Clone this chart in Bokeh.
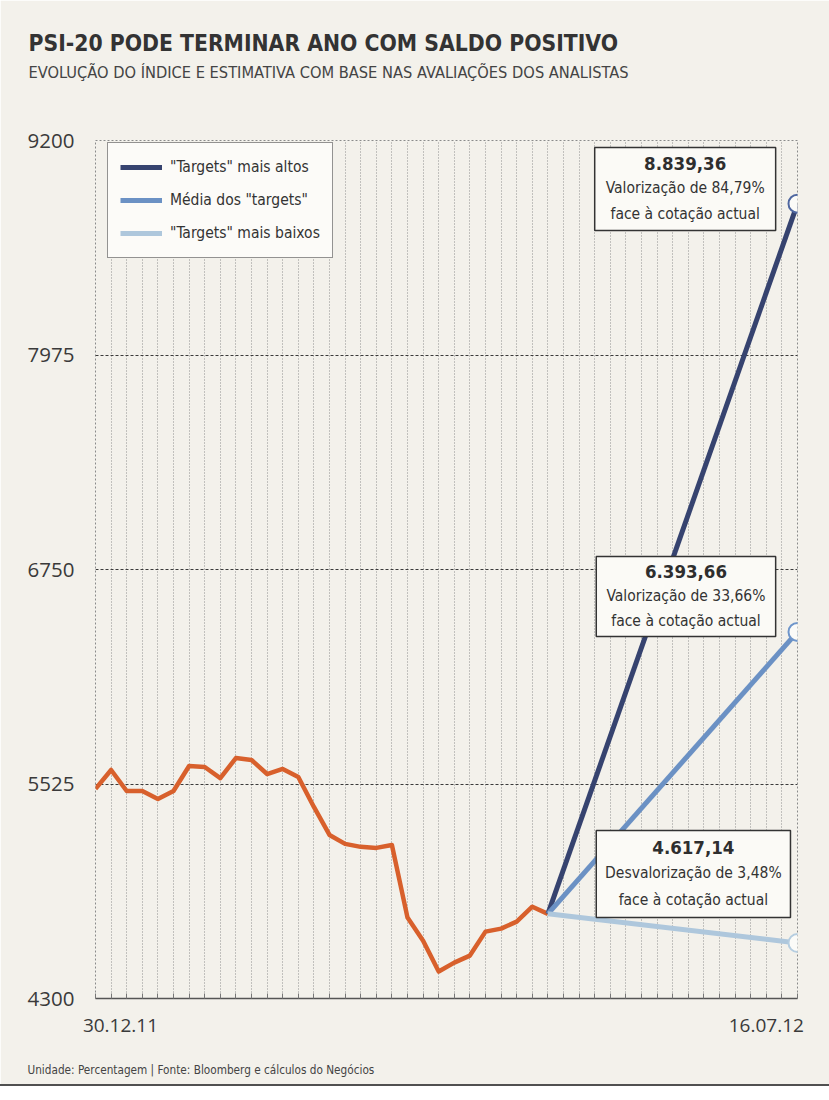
from bokeh.plotting import figure
from bokeh.models import FixedTicker, Title, Legend, LegendItem, Range1d
from bokeh.core.properties import value
from bokeh.embed import file_html
from bokeh.resources import INLINE

# ---------------- data ----------------
week_index = list(range(30))
psi20 = [5497, 5605, 5485, 5485, 5440, 5485, 5628, 5622, 5559, 5673,
         5662, 5582, 5611, 5565, 5394, 5234, 5183, 5166, 5160, 5177,
         4762, 4630, 4454, 4505, 4545, 4682, 4699, 4739, 4824, 4783.5]
target_names = ['"Targets" mais altos', 'Média dos "targets"', '"Targets" mais baixos']
target_values = [8839.36, 6393.66, 4617.14]
target_end_index = 45
y_ticks = [4300, 5525, 6750, 7975, 9200]
x_tick_labels = ["30.12.11", "16.07.12"]

TITLE = "PSI-20 PODE TERMINAR ANO COM SALDO POSITIVO"
SUBTITLE = "EVOLUÇÃO DO ÍNDICE E ESTIMATIVA COM BASE NAS AVALIAÇÕES DOS ANALISTAS"
FOOTER = "Unidade: Percentagem | Fonte: Bloomberg e cálculos do Negócios"

# ---------------- style ----------------
NARROW = "'DejaVu Sans Condensed', 'Liberation Sans Narrow', sans-serif"
NUMFONT = "'Open Sans', 'Liberation Sans', sans-serif"
PAPER = "#f3f1eb"
LINE_COLORS = ["#36436f", "#6b91c4", "#aec7dc"]
CIRCLE_COLORS = ["#4f67a0", "#6f96cb", "#b5cde0"]
ORANGE = "#d8602c"
X_TICK_POS = [1.6, 43.0]

p = figure(width=829, height=1086, title=None,
           x_range=Range1d(0, target_end_index), y_range=Range1d(4300, 9200),
           output_backend="svg", toolbar_location=None,
           min_border_left=95, min_border_right=32,
           min_border_top=140, min_border_bottom=88)
p.background_fill_color = PAPER
p.border_fill_color = PAPER
p.outline_line_color = "#8a8a8a"
p.outline_line_dash = "2 2"
p.outline_line_width = 1
p.styles = {"border-bottom": "2px solid #505050"}

# grids
p.xgrid.ticker = FixedTicker(ticks=list(range(0, target_end_index + 1)))
p.xgrid.grid_line_color = "#8e8e8e"
p.xgrid.grid_line_dash = "1 2"
p.xgrid.grid_line_width = 1
p.ygrid.ticker = FixedTicker(ticks=y_ticks[1:-1])
p.ygrid.grid_line_color = "#3a3a3a"
p.ygrid.grid_line_dash = "3 2"
p.ygrid.grid_line_width = 1

# axes
xa = p.xaxis[0]
xa.ticker = FixedTicker(ticks=X_TICK_POS, minor_ticks=list(range(0, target_end_index + 1)))
xa.major_label_overrides = {X_TICK_POS[i]: x_tick_labels[i] for i in range(len(x_tick_labels))}
xa.axis_line_color = "#555555"
xa.axis_line_width = 1.5
xa.major_tick_line_color = None
xa.minor_tick_in = 5
xa.minor_tick_out = 0
xa.minor_tick_line_color = "#777777"
xa.major_label_text_font = NUMFONT
xa.major_label_text_font_size = "19px"
xa.major_label_text_color = "#3a3a3a"
xa.major_label_standoff = 14

ya = p.yaxis[0]
ya.ticker = FixedTicker(ticks=y_ticks)
ya.axis_line_color = None
ya.major_tick_line_color = None
ya.minor_tick_line_color = None
ya.major_label_text_font = NUMFONT
ya.major_label_text_font_size = "20.5px"
ya.major_label_text_color = "#3a3a3a"
ya.major_label_standoff = 15

# titles (spacer nearest the frame, then subtitle, then title)
spacer_top = Title(text="\u00a0", text_font_size="38px")
p.add_layout(spacer_top, "above")
sub = Title(text=SUBTITLE, text_font=NARROW, text_font_size="16.3px", text_font_style="normal",
            text_color="#444444", align="left", offset=-67)
p.add_layout(sub, "above")
main = Title(text=TITLE, text_font=NARROW, text_font_size="22.7px", text_font_style="bold",
             text_color="#333333", align="left", offset=-67, standoff=0)
p.add_layout(main, "above")
spacer_bottom = Title(text="\u00a0", text_font_size="8px")
p.add_layout(spacer_bottom, "below")
foot = Title(text=FOOTER, text_font=NARROW, text_font_size="11.7px", text_font_style="normal",
             text_color="#444444", align="left", offset=-68)
p.add_layout(foot, "below")

# ---------------- marks ----------------
last_i = week_index[-1]
last_v = psi20[-1]
p.line(week_index, psi20, line_color=ORANGE, line_width=4.5, line_join="round")

renderers = []
for name, v, c in zip(target_names, target_values, LINE_COLORS):
    r = p.line([last_i, target_end_index], [last_v, v], line_color=c, line_width=5)
    renderers.append(r)

p.scatter([target_end_index] * len(target_values), target_values, size=18,
          fill_color="#fbfbf8", line_color=CIRCLE_COLORS, line_width=2)

# annotation boxes (layout in data units)
box_left = [32.0, 32.1, 32.1]
box_right = [43.6, 43.6, 44.55]
box_top = [9160, 6824, 5259]
box_bottom = [8686, 6367, 4763]
p.quad(left=box_left, right=box_right, top=box_top, bottom=box_bottom,
       fill_color="#fbfaf6", line_color="#333333", line_width=1.5)


def fmt_pt(v):
    s = f"{v:,.2f}"
    return s.replace(",", "X").replace(".", ",").replace("X", ".")


line1, line2, line3 = [], [], []
for v in target_values:
    pct = (v / last_v - 1) * 100
    word = "Valorização" if pct >= 0 else "Desvalorização"
    line1.append(fmt_pt(v))
    line2.append(f"{word} de {abs(pct):.2f}%".replace(".", ","))
    line3.append("face à cotação actual")

cx = [(l + r) / 2 for l, r in zip(box_left, box_right)]
span = [t - b for t, b in zip(box_top, box_bottom)]
y1 = [t - s * 0.19 for t, s in zip(box_top, span)]
y2 = [t - s * 0.49 for t, s in zip(box_top, span)]
y3 = [t - s * 0.80 for t, s in zip(box_top, span)]
p.text(cx, y1, text=line1, text_font=value(NARROW), text_font_size=value("18.5px"),
       text_font_style="bold", text_color="#2e2e2e", text_align="center", text_baseline="middle")
p.text(cx, y2, text=line2, text_font=value(NARROW), text_font_size=value("15.5px"),
       text_color="#333333", text_align="center", text_baseline="middle")
p.text(cx, y3, text=line3, text_font=value(NARROW), text_font_size=value("15.5px"),
       text_color="#333333", text_align="center", text_baseline="middle")

# legend
legend = Legend(items=[LegendItem(label=n, renderers=[r]) for n, r in zip(target_names, renderers)],
                location=(12, 740))
legend.background_fill_color = "#fcfbf8"
legend.background_fill_alpha = 1
legend.border_line_color = "#2a2a2a"
legend.border_line_width = 1.5
legend.label_text_font = NARROW
legend.label_text_font_size = "15.5px"
legend.label_text_color = "#333333"
legend.glyph_width = 42
legend.glyph_height = 24
legend.label_height = 24
legend.spacing = 9
legend.padding = 12
legend.margin = 0
legend.label_standoff = 8
p.add_layout(legend)

open("out.html", "w").write(file_html(p, INLINE))
